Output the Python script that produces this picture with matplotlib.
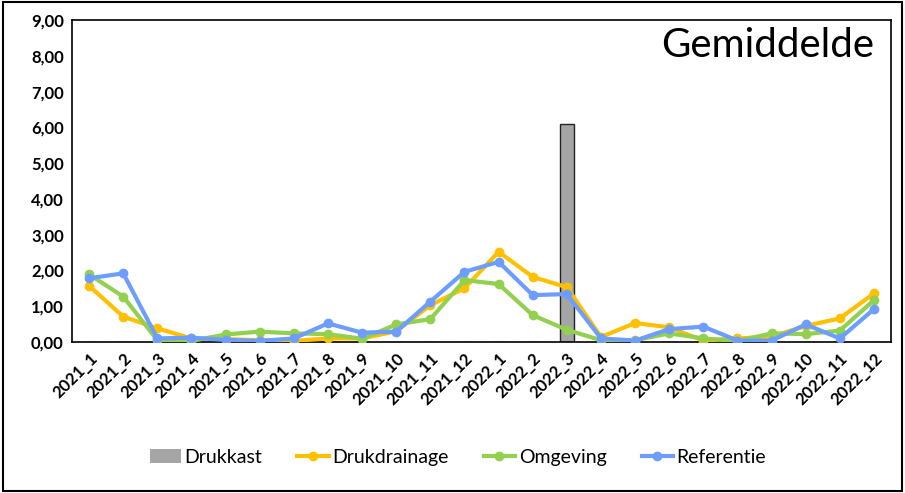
import matplotlib
matplotlib.use("Agg")
import matplotlib.pyplot as plt
from matplotlib.patches import Rectangle, Patch
from matplotlib.ticker import FuncFormatter

plt.rcParams['font.family'] = ['Lato', 'DejaVu Sans']

# maanden
months = ["2021_1", "2021_2", "2021_3", "2021_4", "2021_5", "2021_6", "2021_7", "2021_8",
          "2021_9", "2021_10", "2021_11", "2021_12", "2022_1", "2022_2", "2022_3", "2022_4",
          "2022_5", "2022_6", "2022_7", "2022_8", "2022_9", "2022_10", "2022_11", "2022_12"]

# drukkast alleen in 2022_3
drukkast = [0, 0, 0, 0, 0, 0, 0, 0, 0, 0, 0, 0, 0, 0, 6.08, 0, 0, 0, 0, 0, 0, 0, 0, 0]
drukdrainage = [1.57, 0.71, 0.38, 0.10, 0.08, 0.05, 0.03, 0.10, 0.10, 0.30, 1.03, 1.50,
                2.52, 1.82, 1.53, 0.14, 0.53, 0.41, 0.04, 0.10, 0.15, 0.45, 0.66, 1.36]
omgeving = [1.89, 1.27, 0.05, 0.03, 0.21, 0.29, 0.24, 0.22, 0.09, 0.49, 0.64, 1.73,
            1.62, 0.75, 0.34, 0.05, 0.05, 0.24, 0.10, 0.03, 0.24, 0.22, 0.32, 1.17]
referentie = [1.78, 1.92, 0.10, 0.12, 0.06, 0.03, 0.10, 0.52, 0.26, 0.29, 1.13, 1.96,
              2.24, 1.31, 1.34, 0.10, 0.04, 0.36, 0.43, 0.04, 0.04, 0.49, 0.10, 0.92]

fig = plt.figure(figsize=(9.05, 4.93), dpi=100)
ax = fig.add_axes([0.0796, 0.3063, 0.905, 0.6531])

x = list(range(len(months)))
ax.bar(x, drukkast, width=0.41, color="#A5A5A5", edgecolor="#222222", linewidth=1, zorder=2)
l1, = ax.plot(x, drukdrainage, color="#FFC000", lw=3, marker="o", ms=6, zorder=3)
l2, = ax.plot(x, omgeving, color="#92D050", lw=3, marker="o", ms=6, zorder=4)
l3, = ax.plot(x, referentie, color="#6D9EFF", lw=3, marker="o", ms=6, zorder=5)

ax.set_xlim(-0.5, len(months) - 0.5)
ax.set_ylim(0, 9)
ax.set_yticks(range(10))
ax.yaxis.set_major_formatter(FuncFormatter(lambda v, p: f"{v:.2f}".replace(".", ",")))
ax.set_xticks(x)
ax.set_xticklabels(months, rotation=45, ha="right", rotation_mode="anchor")
ax.tick_params(length=0, labelsize=12, pad=6)
for lbl in ax.get_xticklabels() + ax.get_yticklabels():
    lbl.set_fontweight("bold")
for s in ax.spines.values():
    s.set_linewidth(1.2)
    s.set_color("black")

ax.text(0.979, 0.92, "Gemiddelde", transform=ax.transAxes, ha="right", va="center", fontsize=29)

bar_handle = Patch(facecolor="#A5A5A5", edgecolor="none")
fig.legend([bar_handle, l1, l2, l3], ["Drukkast", "Drukdrainage", "Omgeving", "Referentie"],
           loc="center", bbox_to_anchor=(0.506, 0.073), ncol=4, frameon=False,
           fontsize=14, handlelength=1.6, handletextpad=0.2, columnspacing=1.8)

# rand om de hele figuur
fig.patches.append(Rectangle((0.003, 0.004), 0.994, 0.992, transform=fig.transFigure,
                             fill=False, edgecolor="black", linewidth=1.5))

fig.savefig("out.png", dpi=100)
